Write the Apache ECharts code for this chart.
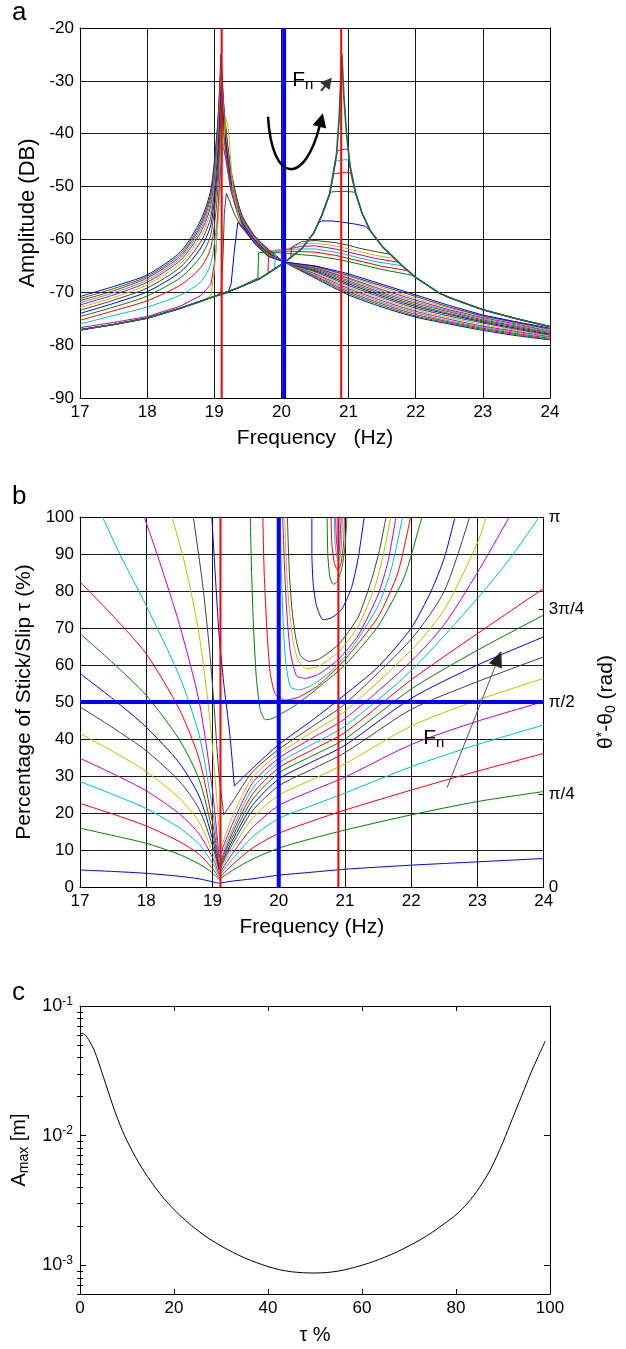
<!DOCTYPE html>
<html><head><meta charset="utf-8">
<script src="https://cdn.jsdelivr.net/npm/echarts@6/dist/echarts.min.js"></script>
<style>html,body{margin:0;padding:0;background:#fff}#chart{width:626px;height:1349px}</style>
</head><body><div id="chart"></div>
<script>
// ---------------- DATA ----------------
const freqTicks = [17, 18, 19, 20, 21, 22, 23, 24];
const ampRange = [-90, -20];
const tauRange = [0, 100];
const phaseTickValues = [0, 25, 50, 75, 100];
const phaseTickLabels = ['0', 'π/4', 'π/2', '3π/4', 'π'];
const redFreqA = [19.11, 20.89];
const blueFreqA = [20.04];
const redFreqB = [19.12, 20.9];
const blueFreqB = [20.0];
const blueTauB = [50];

// panel a: shared frequency grid for the left-peak family
const freqA = [17, 17.5, 18, 18.5, 18.8, 18.95, 19.05, 19.1, 19.15, 19.25, 19.4, 19.6, 19.8, 20.05, 20.5, 21, 21.5, 22, 22.5, 23, 23.5, 24];
const ampA1 = [-70.8,-68.9,-66.7,-62.3,-56.3,-50.5,-38.0,-25.0,-36.0,-47.0,-55.0,-59.3,-61.8,-64.3,-67.3,-70.5,-72.8,-74.7,-76.0,-77.2,-78.2,-79.0];
const ampA2 = [-71.2,-69.3,-67.0,-62.7,-56.9,-51.2,-39.0,-26.0,-36.5,-47.3,-55.2,-59.4,-61.9,-64.3,-67.1,-70.2,-72.5,-74.5,-75.8,-77.0,-78.0,-78.9];
const ampA3 = [-71.6,-69.7,-67.3,-63.1,-57.4,-51.9,-40.0,-27.0,-37.0,-47.6,-55.4,-59.5,-62.0,-64.3,-66.9,-69.9,-72.2,-74.2,-75.6,-76.8,-77.8,-78.7];
const ampA4 = [-72.0,-70.1,-67.7,-63.5,-58.0,-52.7,-41.0,-28.0,-37.5,-48.0,-55.6,-59.7,-62.1,-64.3,-66.7,-69.6,-71.9,-73.9,-75.4,-76.6,-77.6,-78.55];
const ampA5 = [-72.4,-70.5,-68.1,-63.9,-58.6,-53.5,-42.0,-29.0,-38.0,-48.3,-55.8,-59.8,-62.2,-64.3,-66.5,-69.3,-71.6,-73.6,-75.1,-76.4,-77.4,-78.4];
const ampA6 = [-72.9,-71.0,-68.6,-64.5,-59.4,-54.5,-43.0,-30.0,-38.5,-48.6,-56.0,-59.9,-62.3,-64.3,-66.3,-69.0,-71.3,-73.3,-74.8,-76.1,-77.2,-78.25];
const ampA7 = [-73.4,-71.5,-69.2,-65.2,-60.4,-55.7,-44.0,-31.0,-39.0,-49.0,-56.2,-60.0,-62.4,-64.3,-66.1,-68.7,-71.0,-73.0,-74.5,-75.8,-77.0,-78.1];
const ampA8 = [-74.0,-72.1,-69.9,-66.1,-61.6,-57.2,-46.0,-32.0,-39.5,-49.3,-56.4,-60.1,-62.5,-64.3,-65.9,-68.4,-70.7,-72.7,-74.2,-75.6,-76.8,-77.95];
const ampA9 = [-74.6,-72.8,-70.7,-67.2,-63.2,-59.0,-48.0,-34.0,-40.5,-49.7,-56.6,-60.2,-62.6,-64.3,-65.7,-68.1,-70.4,-72.4,-74.0,-75.4,-76.6,-77.8];
const ampA10 = [-75.3,-73.5,-71.6,-68.6,-65.3,-61.5,-51.0,-36.0,-41.5,-50.1,-56.8,-60.3,-62.7,-64.3,-65.5,-67.8,-70.1,-72.1,-73.7,-75.2,-76.4,-77.65];
const ampA11 = [-76.0,-74.4,-72.8,-70.5,-68.0,-64.5,-55.0,-39.0,-43.0,-50.6,-57.0,-60.4,-62.8,-64.3,-65.4,-67.5,-69.8,-71.8,-73.5,-75.0,-76.2,-77.5];
// [freq, dB] curves
const ampA12 = [[17,-76.7],[17.5,-75.7],[18,-74.6],[18.5,-72.6],[18.8,-70.6],[18.95,-68.5],[19.02,-63],[19.07,-52],[19.12,-42],[19.17,-44.5],[19.25,-51],[19.4,-57.2],[19.6,-60.5],[19.8,-62.9],[20.05,-64.3],[20.5,-65.3],[21,-67.3],[21.5,-69.5],[22,-71.5],[22.5,-73.3],[23,-74.8],[23.5,-76.0],[24,-77.35]];
const ampA13 = [[18.6,-72.6],[18.8,-71.8],[18.95,-70.6],[19.0,-66],[19.06,-56],[19.12,-44],[19.17,-37],[19.21,-39],[19.28,-51],[19.4,-57.4],[19.6,-60.6],[19.8,-63.0],[20.05,-64.3],[20.5,-65.2],[21,-67.0],[21.5,-69.1],[22,-71.2],[22.5,-73.0],[23,-74.6],[23.5,-75.8],[24,-77.2]];
const ampA14 = [[19.05,-70.6],[19.1,-69.8],[19.13,-63],[19.15,-55],[19.18,-51.3],[19.22,-52.5],[19.3,-55.2],[19.4,-57.6],[19.6,-60.7],[19.8,-63.1],[20.05,-64.3],[20.5,-65.1],[21,-66.8],[21.5,-68.8],[22,-70.8],[22.5,-72.8],[23,-74.5],[23.5,-75.7],[24,-77.0]];
const ampA15 = [[19.2,-70.1],[19.25,-68.5],[19.3,-62],[19.35,-56.8],[19.45,-58],[19.6,-60.8],[19.8,-63.2],[20.05,-64.3],[20.5,-65.0],[21,-66.5],[21.5,-68.5],[22,-70.5],[22.5,-72.5],[23,-74.3],[23.5,-75.6],[24,-76.8]];
// right-peak envelope (dark green)
const ampEnvR = [[17,-77.1],[17.5,-76.1],[18,-74.9],[18.5,-73.0],[19,-70.8],[19.35,-69.2],[19.68,-67.4],[20.03,-64.5],[20.3,-61.8],[20.48,-58.8],[20.6,-55.5],[20.72,-51.3],[20.82,-44],[20.86,-37],[20.9,-25],[20.93,-33],[20.97,-40],[21.02,-46],[21.1,-51],[21.2,-55],[21.32,-58.3],[21.5,-61.3],[21.62,-62.8],[21.8,-65],[22,-67.2],[22.36,-70.2],[22.5,-71],[23,-73.3],[23.5,-75],[24,-76.5]];
// jump curves (segments off the envelope)
const humpG = [[19.65,-67.3],[19.66,-62.5],[19.8,-62.4],[20.05,-62.6],[20.3,-62.9],[20.5,-63.1],[20.8,-63.7],[21,-64.2],[21.17,-64.7],[21.5,-65.7],[21.96,-66.8]];
const humpR = [[19.8,-66.4],[19.81,-62.2],[20.05,-62.2],[20.3,-62.3],[20.5,-62.4],[20.8,-63.0],[21,-63.6],[21.17,-64.1],[21.5,-65.1],[21.88,-65.9]];
const humpC = [[19.9,-65.6],[19.91,-62.0],[20.05,-61.9],[20.3,-61.8],[20.5,-61.8],[20.8,-62.4],[21,-63.0],[21.17,-63.5],[21.4,-64.2],[21.8,-65.0]];
const humpM = [[20.0,-64.8],[20.01,-62.0],[20.3,-61.3],[20.5,-61.2],[20.8,-61.8],[21,-62.4],[21.17,-62.9],[21.4,-63.6],[21.74,-64.3]];
const humpY = [[20.07,-64.1],[20.08,-61.8],[20.3,-60.8],[20.5,-60.7],[20.8,-61.2],[21,-61.8],[21.17,-62.3],[21.4,-63.0],[21.68,-63.6]];
const humpK = [[20.14,-63.3],[20.15,-61.5],[20.3,-60.4],[20.5,-60.2],[20.8,-60.6],[21,-61.1],[21.17,-61.7],[21.4,-62.3],[21.62,-62.8]];
const plateauB = [[20.55,-56.9],[20.6,-56.5],[20.75,-56.5],[20.95,-56.8],[21.1,-57.1],[21.25,-57.5]];
const plateauG = [[20.72,-51.3],[20.75,-51.0],[20.9,-50.9],[21.05,-51.0],[21.1,-51.1]];
const plateauR = [[20.78,-47.6],[20.8,-47.4],[20.95,-47.3],[21.03,-47.4]];
const plateauC = [[20.81,-45.2],[20.83,-45.0],[20.95,-44.9],[21.01,-45.0]];
const plateauM = [[20.83,-43.2],[20.85,-43.0],[20.95,-42.9],[20.995,-43.0]];

// panel b: [freq, tau%] curves
const tauV1 = [[17,4.6],[17.5,4.2],[18,3.7],[18.5,2.9],[18.8,2.2],[19.0,1.4],[19.1,1.0],[19.3,1.6],[19.6,2.2],[20,3.2],[20.5,4],[21,4.8],[22,5.9],[23,6.8],[24,7.7]];
const tauV2 = [[17,15.9],[17.5,13.9],[18,11.8],[18.5,8.8],[18.8,6.2],[19.0,3.8],[19.1,2],[19.3,4.5],[19.6,7.5],[20,10.5],[20.5,13.1],[21,15.4],[22,19.5],[23,23.1],[24,25.8]];
const tauV3 = [[17,22.6],[17.5,19.7],[18,16.5],[18.5,12.3],[18.8,8.8],[19.0,5],[19.1,2.5],[19.3,6],[19.6,10.5],[20,14.5],[20.5,17.8],[21,20.8],[22,26.2],[23,31.3],[24,36.1]];
const tauV4 = [[17,28.5],[17.5,25],[18,21.2],[18.5,16],[18.8,11.5],[19.0,6.5],[19.1,3],[19.3,7.5],[19.6,13.5],[20,18.5],[20.5,22],[21,25.4],[22,32.5],[23,38.5],[24,43.8]];
const tauV5 = [[17,34.8],[17.5,30.6],[18,26],[18.5,19.8],[18.8,14.3],[19.0,8],[19.1,3.5],[19.3,9],[19.6,16],[20,22],[20.5,26],[21,29.7],[22,38.5],[23,44.8],[24,50.1]];
const tauV6 = [[17,41.5],[17.5,36.6],[18,31.2],[18.5,24],[18.8,17.5],[19.0,9.5],[19.1,4],[19.3,10.3],[19.6,18.5],[20,24.8],[20.5,29],[21,33.3],[22,43.5],[23,50.5],[24,56.4]];
const tauV7 = [[17,48.7],[17.5,43],[18,36.8],[18.5,28.6],[18.8,21],[19.0,11.2],[19.1,4.5],[19.3,11.5],[19.6,20.5],[20,27.3],[20.5,31.8],[21,36.3],[22,48],[23,55.5],[24,62.2]];
const tauV8 = [[17,57.7],[17.5,50.8],[18,43.2],[18.5,33.5],[18.8,24.5],[19.0,13],[19.1,5],[19.3,12.5],[19.6,22],[20,29.2],[20.5,33.8],[21,38.3],[22,51],[23,60],[24,67.6]];
const tauV9 = [[17,68.5],[17.5,60.5],[18,51.8],[18.5,39.8],[18.8,29],[19.0,15],[19.1,5.5],[19.3,13.5],[19.6,23.5],[20,30.8],[20.5,35.4],[21,40],[22,53.5],[23,64],[24,73.5]];
const tauV10 = [[17,82.5],[17.5,73.2],[18,63],[18.5,48],[18.8,34.5],[19.0,17.5],[19.1,6],[19.3,14.5],[19.6,25],[20,32.2],[20.5,37],[21,41.8],[22,56],[23,68.5],[24,80.7]];
const tauV11 = [[17.34,100],[17.6,90],[18,76],[18.5,57],[18.8,41],[19.0,21],[19.1,7],[19.3,15.5],[19.6,26.5],[20,33.5],[20.5,38.5],[21,43.5],[22,58.5],[23,78],[23.5,89],[23.93,100]];
const tauV12 = [[17.97,100],[18.2,88],[18.5,71],[18.8,50],[19.0,26],[19.1,8],[19.3,17],[19.6,28],[20,34.8],[20.5,40.2],[21,45.5],[22,61],[22.5,71],[23,85],[23.48,100]];
const tauV13 = [[18.39,100],[18.6,86],[18.8,68],[18.95,47],[19.05,27],[19.12,10],[19.3,19],[19.6,29.5],[20,36],[20.5,41.8],[21,47.5],[22,64],[22.5,75],[23,93],[23.13,100]];
const tauV14 = [[18.71,100],[18.85,82],[18.95,65],[19.02,50],[19.09,32],[19.17,19.5],[19.3,23],[19.6,31],[20,37.2],[20.5,43.3],[21,49.5],[22,67],[22.5,80],[22.88,100]];
const tauV15 = [[18.99,100],[19.04,85],[19.1,68],[19.17,55],[19.26,41.5],[19.33,27.3],[19.6,32],[20,38.5],[20.5,45],[21,52],[21.5,59.5],[22,70],[22.3,80],[22.5,89],[22.66,100]];
const tauU1 = [[19.57,100],[19.59,85],[19.62,70],[19.66,57],[19.72,48],[19.8,45.2],[19.9,45.5],[20.0,46.5],[20.2,48.5],[20.5,52.5],[21,60],[21.5,70.5],[21.9,84],[22.16,100]];
const tauU2 = [[19.76,100],[19.78,85],[19.82,70],[19.87,58],[19.95,52],[20.1,50.5],[20.3,51.3],[20.6,54.5],[21,61.5],[21.5,73],[21.8,85],[21.99,100]];
const tauU3 = [[20.02,100],[20.04,85],[20.07,70],[20.11,60],[20.18,54],[20.3,53.3],[20.5,54.5],[20.8,58.5],[21.1,64.5],[21.5,76],[21.7,86],[21.87,100]];
const tauU4 = [[20.06,100],[20.09,85],[20.13,72],[20.18,63],[20.27,57],[20.4,56.4],[20.6,57.5],[20.9,61.5],[21.2,68],[21.5,79],[21.65,88],[21.77,100]];
const tauU5 = [[20.09,100],[20.12,85],[20.16,75],[20.22,66],[20.3,61],[20.42,59],[20.6,59.6],[20.9,63.5],[21.2,70.5],[21.45,81],[21.58,90],[21.69,100]];
const tauU6 = [[20.13,100],[20.16,85],[20.2,75],[20.26,67],[20.33,62.5],[20.45,61],[20.6,61.5],[20.9,65.5],[21.2,73],[21.4,83],[21.52,91],[21.62,100]];
const tauW1 = [[20.5,100],[20.5,90],[20.52,82],[20.57,76],[20.67,72.2],[20.8,72.8],[20.95,75],[21.1,81],[21.2,89],[21.29,100]];
const tauW2 = [[20.73,100],[20.74,90],[20.77,84],[20.82,81.8],[20.88,82.5],[20.95,86],[21.0,92],[21.03,100]];
const tauW3 = [[20.79,100],[20.8,93],[20.84,87.5],[20.89,85.7],[20.94,87.5],[20.98,93],[20.99,100]];
const tauW4 = [[20.84,100],[20.85,93],[20.88,89],[20.9,88.2],[20.93,89.5],[20.95,94],[20.96,100]];
const tauW5 = [[20.86,100],[20.87,94],[20.9,89.8],[20.92,92],[20.94,100]];

// panel c
const tauC = [0,1,2,3,4,5,6,7,8,9,10,12.5,15,17.5,20,22.5,25,27.5,30,32.5,35,37.5,40,42.5,45,47.5,50,52.5,55,57.5,60,62.5,65,67.5,70,72.5,75,77.5,80,82.5,85,87.5,90,91,92,93,94,95,96,97,98,99];
const amaxC = [0.0617,0.0603,0.0537,0.0457,0.0363,0.0282,0.0219,0.0170,0.0135,0.01096,0.00912,0.00617,0.00447,0.00339,0.00269,0.00221,0.00186,0.0016,0.00141,0.00126,0.00114,0.00105,0.000977,0.000923,0.000891,0.000875,0.000871,0.000879,0.000902,0.000944,0.001,0.00107,0.00116,0.00127,0.00141,0.00158,0.0018,0.00209,0.00245,0.00302,0.00398,0.00562,0.00891,0.01096,0.0135,0.0166,0.0204,0.0251,0.0309,0.0372,0.0447,0.0537];
const amaxTicks = [0.001, 0.01, 0.1];
const amaxMinorTicks = [0.0006,0.0007,0.0008,0.0009,0.002,0.003,0.004,0.005,0.006,0.007,0.008,0.009,0.02,0.03,0.04,0.05,0.06,0.07,0.08,0.09];

// annotation anchors (data units)
const annotA = {label: [20.16, -29.8], arrowTail: [20.59, -31.9], arrowTip: [20.75, -29.4],
  curveStart: [19.80, -36.8], curveCp1: [19.86, -49.7], curveCp2: [20.35, -49.7], curveEnd: [20.57, -38.5]};
const annotB = {label: [22.18, 40.3], arrowTail: [22.54, 26.8], arrowTip: [23.36, 63.8]};

// ---------------- CHART ----------------
const ff = "'Liberation Sans', Arial, Helvetica, sans-serif";
const COL = {b:'#0000ff', g:'#008000', r:'#ff0000', c:'#00bfbf', m:'#bf00bf', y:'#bfbf00', k:'#404040'};
const ENV = '#1e6a44';
const TICK_FS = 17;
const chart = echarts.init(document.getElementById('chart'), null, {renderer: 'canvas'});

function frameAxis(gridIndex, pos, min, max, interval) {
  return {gridIndex, position: pos, type: 'value', min, max, interval,
    axisLine: {show: true, onZero: false, lineStyle: {color: '#000', width: 1}},
    axisTick: {show: true, inside: true, length: 5, lineStyle: {color: '#000'}},
    axisLabel: {show: false}, splitLine: {show: false}};
}
function mainAxis(gridIndex, pos, min, max, interval, name, nameGap, nameSize, grid) {
  return {gridIndex, position: pos, type: 'value', min, max, interval,
    axisLine: {show: true, onZero: false, lineStyle: {color: '#000', width: 1}},
    axisTick: {show: true, inside: true, length: 5, lineStyle: {color: '#000'}},
    axisLabel: {color: '#000', fontSize: TICK_FS, fontFamily: ff, margin: 6},
    splitLine: {show: !!grid, lineStyle: {color: '#1a1a1a', width: 1}},
    name, nameLocation: 'middle', nameGap, nameRotate: (pos === 'left' || pos === 'right') ? 90 : 0,
    nameTextStyle: {color: '#000', fontSize: nameSize, fontFamily: ff}};
}
function ln(xi, yi, data, color, width, z, smooth) {
  const s = {type: 'line', xAxisIndex: xi, yAxisIndex: yi, data, symbol: 'none', showSymbol: false,
    lineStyle: {color, width: width || 1}, itemStyle: {color}, z: z || 2, silent: true, animation: false, clip: true};
  if (smooth) { s.smooth = smooth; }
  return s;
}
// split a curve at its extreme point so each branch can be smoothed while the tip stays sharp
function branches(data, pickMax) {
  let k = 0;
  data.forEach((p, i) => { if (pickMax ? p[1] > data[k][1] : p[1] < data[k][1]) k = i; });
  return [data.slice(0, k + 1), data.slice(k)];
}
const onGrid = (arr) => freqA.map((f, i) => [f, arr[i]]);
const envBefore = (f0) => ampEnvR.filter(p => p[0] < f0);
const envAfter = (f1) => ampEnvR.filter(p => p[0] > f1);
const withEnv = (seg) => envBefore(seg[0][0]).concat(seg, envAfter(seg[seg.length - 1][0]));

const series = [];
// panel a
const famA = [ampA1, ampA2, ampA3, ampA4, ampA5, ampA6, ampA7, ampA8, ampA9, ampA10, ampA11];
const famACols = ['b','g','r','c','m','y','k','b','g','r','c'];
famA.forEach((a, i) => branches(onGrid(a), true).forEach(part => series.push(ln(0, 0, part, COL[famACols[i]], 1, 2, 0.25))));
series.push(ln(0, 0, ampA12, COL.m));
series.push(ln(0, 0, envBefore(ampA13[0][0]).concat(ampA13), COL.y));
series.push(ln(0, 0, envBefore(ampA14[0][0]).concat(ampA14), COL.k));
series.push(ln(0, 0, envBefore(ampA15[0][0]).concat(ampA15), COL.b));
[[humpG,'g'],[humpR,'r'],[humpC,'c'],[humpM,'m'],[humpY,'y'],[humpK,'k'],
 [plateauB,'b'],[plateauG,'g'],[plateauR,'r'],[plateauC,'c'],[plateauM,'m']].forEach(([s, c]) => series.push(ln(0, 0, withEnv(s), COL[c])));
series.push(ln(0, 0, ampEnvR, ENV, 1.7, 4));
redFreqA.forEach(v => series.push(ln(0, 0, [[v, ampRange[0]], [v, ampRange[1]]], '#ff0000', 2, 6)));
blueFreqA.forEach(v => series.push(ln(0, 0, [[v, ampRange[0]], [v, ampRange[1]]], '#0000ff', 4, 6)));
// panel b
const famB = [tauV1,tauV2,tauV3,tauV4,tauV5,tauV6,tauV7,tauV8,tauV9,tauV10,tauV11,tauV12,tauV13,tauV14,tauV15];
const famBCols = ['b','g','r','c','m','y','k','b','g','r','c','m','y','k','b'];
famB.forEach((d, i) => branches(d, false).forEach(part => series.push(ln(2, 2, part, COL[famBCols[i]], 1, 2, 0.25))));
[[tauU1,'g'],[tauU2,'r'],[tauU3,'c'],[tauU4,'m'],[tauU5,'y'],[tauU6,'k'],
 [tauW1,'b'],[tauW2,'g'],[tauW3,'r'],[tauW4,'c'],[tauW5,'m']].forEach(([d, c]) => series.push(ln(2, 2, d, COL[c], 1, 2, 0.2)));
redFreqB.forEach(v => series.push(ln(2, 2, [[v, tauRange[0]], [v, tauRange[1]]], '#ff0000', 2, 6)));
blueFreqB.forEach(v => series.push(ln(2, 2, [[v, tauRange[0]], [v, tauRange[1]]], '#0000ff', 4, 6)));
blueTauB.forEach(v => series.push(ln(2, 2, [[freqTicks[0], v], [freqTicks[freqTicks.length - 1], v]], '#0000ff', 4, 6)));
// panel c
series.push(ln(4, 4, tauC.map((t, i) => [t, amaxC[i]]), '#000', 1, 2, 0.3));

const fmin = freqTicks[0], fmax = freqTicks[freqTicks.length - 1];
const supRich = {b: {fontSize: 18, fontFamily: ff, color: '#000'}, s: {fontSize: 12, fontFamily: ff, color: '#000', verticalAlign: 'top', padding: [0, 0, 9, 0]}};

const option = {
  animation: false,
  backgroundColor: '#fff',
  textStyle: {fontFamily: ff},
  grid: [
    {left: 80, top: 28, width: 470, height: 370},
    {left: 80, top: 517, width: 470, height: 370},
    {left: 80, top: 1006, width: 470, height: 288}
  ],
  xAxis: [
    mainAxis(0, 'bottom', fmin, fmax, 1, 'Frequency   (Hz)', 30, 21, true),
    frameAxis(0, 'top', fmin, fmax, 1),
    mainAxis(1, 'bottom', fmin, fmax, 1, 'Frequency (Hz)', 30, 21, true),
    frameAxis(1, 'top', fmin, fmax, 1),
    mainAxis(2, 'bottom', 0, 100, 20, 'τ %', 31, 20, false),
    frameAxis(2, 'top', 0, 100, 20)
  ],
  yAxis: [
    mainAxis(0, 'left', ampRange[0], ampRange[1], 10, 'Amplitude (DB)', 37, 22, true),
    frameAxis(0, 'right', ampRange[0], ampRange[1], 10),
    mainAxis(1, 'left', tauRange[0], tauRange[1], 10, 'Percentage of Stick/Slip τ (%)', 44, 21, true),
    Object.assign(frameAxis(1, 'right', tauRange[0], tauRange[1], 25), {
      axisTick: {show: true, inside: true, length: 5, customValues: phaseTickValues, lineStyle: {color: '#000'}},
      axisLabel: {show: true, customValues: phaseTickValues, color: '#000', fontSize: 17, fontFamily: ff, margin: 5,
        formatter: (v) => phaseTickLabels[phaseTickValues.indexOf(v)]},
      name: 'θ{sup|*}-θ{sub|0} (rad)', nameLocation: 'middle', nameGap: 43, nameRotate: 90,
      nameTextStyle: {color: '#000', fontSize: 21, fontFamily: ff,
        rich: {sup: {fontSize: 14, fontFamily: ff, verticalAlign: 'top', padding: [0,0,9,0]}, sub: {fontSize: 14, fontFamily: ff, verticalAlign: 'bottom', padding: [9,0,0,0]}}}
    }),
    {gridIndex: 2, position: 'left', type: 'log', logBase: 10, min: 0.0006, max: 0.1,
      axisLine: {show: true, onZero: false, lineStyle: {color: '#000'}},
      axisTick: {show: true, inside: true, length: 6, customValues: amaxTicks, lineStyle: {color: '#000'}},
      axisLabel: {show: true, customValues: amaxTicks, margin: 7,
        formatter: (v) => '{b|10}{s|' + Math.round(Math.log10(v)) + '}', rich: supRich},
      splitLine: {show: false},
      name: 'A{sub|max} [m]', nameLocation: 'middle', nameGap: 44, nameRotate: 90,
      nameTextStyle: {color: '#000', fontSize: 20, fontFamily: ff,
        rich: {sub: {fontSize: 14, fontFamily: ff, verticalAlign: 'bottom', padding: [9,0,0,0]}}}},
    {gridIndex: 2, position: 'right', type: 'log', logBase: 10, min: 0.0006, max: 0.1,
      axisLine: {show: true, onZero: false, lineStyle: {color: '#000'}},
      axisTick: {show: true, inside: true, length: 6, customValues: amaxTicks, lineStyle: {color: '#000'}},
      axisLabel: {show: false}, splitLine: {show: false}},
    {gridIndex: 2, position: 'left', type: 'log', logBase: 10, min: 0.0006, max: 0.1,
      axisLine: {show: false}, axisTick: {show: true, inside: true, length: 3, customValues: amaxMinorTicks, lineStyle: {color: '#000'}},
      axisLabel: {show: false}, splitLine: {show: false}},
    {gridIndex: 2, position: 'right', type: 'log', logBase: 10, min: 0.0006, max: 0.1,
      axisLine: {show: false}, axisTick: {show: true, inside: true, length: 3, customValues: amaxMinorTicks, lineStyle: {color: '#000'}},
      axisLabel: {show: false}, splitLine: {show: false}}
  ],
  series
};
chart.setOption(option);

// annotations
const PA = (p) => chart.convertToPixel({xAxisIndex: 0, yAxisIndex: 0}, p);
const PB = (p) => chart.convertToPixel({xAxisIndex: 2, yAxisIndex: 2}, p);
function head(tip, from, len, half, color) {
  const dx = tip[0] - from[0], dy = tip[1] - from[1], d = Math.hypot(dx, dy);
  const ux = dx / d, uy = dy / d;
  const bx = tip[0] - ux * len, by = tip[1] - uy * len;
  return {type: 'polygon', z: 20, shape: {points: [tip, [bx - uy * half, by + ux * half], [bx + uy * half, by - ux * half]]}, style: {fill: color}};
}
const fnRich = {F: {fontSize: 21, fontFamily: ff, fill: '#000'}, n: {fontSize: 15, fontFamily: ff, fill: '#000', verticalAlign: 'bottom', padding: [10,0,0,0]}};
const la = PA(annotA.label), ta = PA(annotA.arrowTail), tipA = PA(annotA.arrowTip);
const cs = PA(annotA.curveStart), c1 = PA(annotA.curveCp1), c2 = PA(annotA.curveCp2), ce = PA(annotA.curveEnd);
const dxe = ce[0] - c2[0], dye = ce[1] - c2[1], de = Math.hypot(dxe, dye);
const curveTip = [ce[0] + dxe / de * 13, ce[1] + dye / de * 13];
const lb = PB(annotB.label), tb = PB(annotB.arrowTail), tipB = PB(annotB.arrowTip);
const dxb = tipB[0] - tb[0], dyb = tipB[1] - tb[1], db = Math.hypot(dxb, dyb);
const shaftEndB = [tipB[0] - dxb / db * 10, tipB[1] - dyb / db * 10];
const dxa = tipA[0] - ta[0], dya = tipA[1] - ta[1], da = Math.hypot(dxa, dya);
const shaftEndA = [tipA[0] - dxa / da * 6, tipA[1] - dya / da * 6];

chart.setOption({graphic: [
  {type: 'text', left: 12, top: 0, z: 20, style: {text: 'a', fontSize: 26, fontFamily: ff, fill: '#000'}},
  {type: 'text', left: 12, top: 484, z: 20, style: {text: 'b', fontSize: 26, fontFamily: ff, fill: '#000'}},
  {type: 'text', left: 12, top: 980, z: 20, style: {text: 'c', fontSize: 26, fontFamily: ff, fill: '#000'}},
  {type: 'text', x: la[0], y: la[1], z: 20, style: {text: '{F|F}{n|n}', rich: fnRich, verticalAlign: 'middle', align: 'left'}},
  {type: 'line', z: 20, shape: {x1: ta[0], y1: ta[1], x2: shaftEndA[0], y2: shaftEndA[1]}, style: {stroke: '#333', lineWidth: 2}},
  head(tipA, ta, 11, 6, '#333'),
  {type: 'bezierCurve', z: 20, shape: {x1: cs[0], y1: cs[1], cpx1: c1[0], cpy1: c1[1], cpx2: c2[0], cpy2: c2[1], x2: ce[0], y2: ce[1]}, style: {stroke: '#000', lineWidth: 2.5, fill: null}},
  head(curveTip, ce, 14, 7, '#000'),
  {type: 'text', x: lb[0], y: lb[1], z: 20, style: {text: '{F|F}{n|n}', rich: fnRich, verticalAlign: 'middle', align: 'left'}},
  {type: 'line', z: 20, shape: {x1: tb[0], y1: tb[1], x2: shaftEndB[0], y2: shaftEndB[1]}, style: {stroke: '#555', lineWidth: 1}},
  head(tipB, tb, 16, 7, '#222')
]});
</script></body></html>
